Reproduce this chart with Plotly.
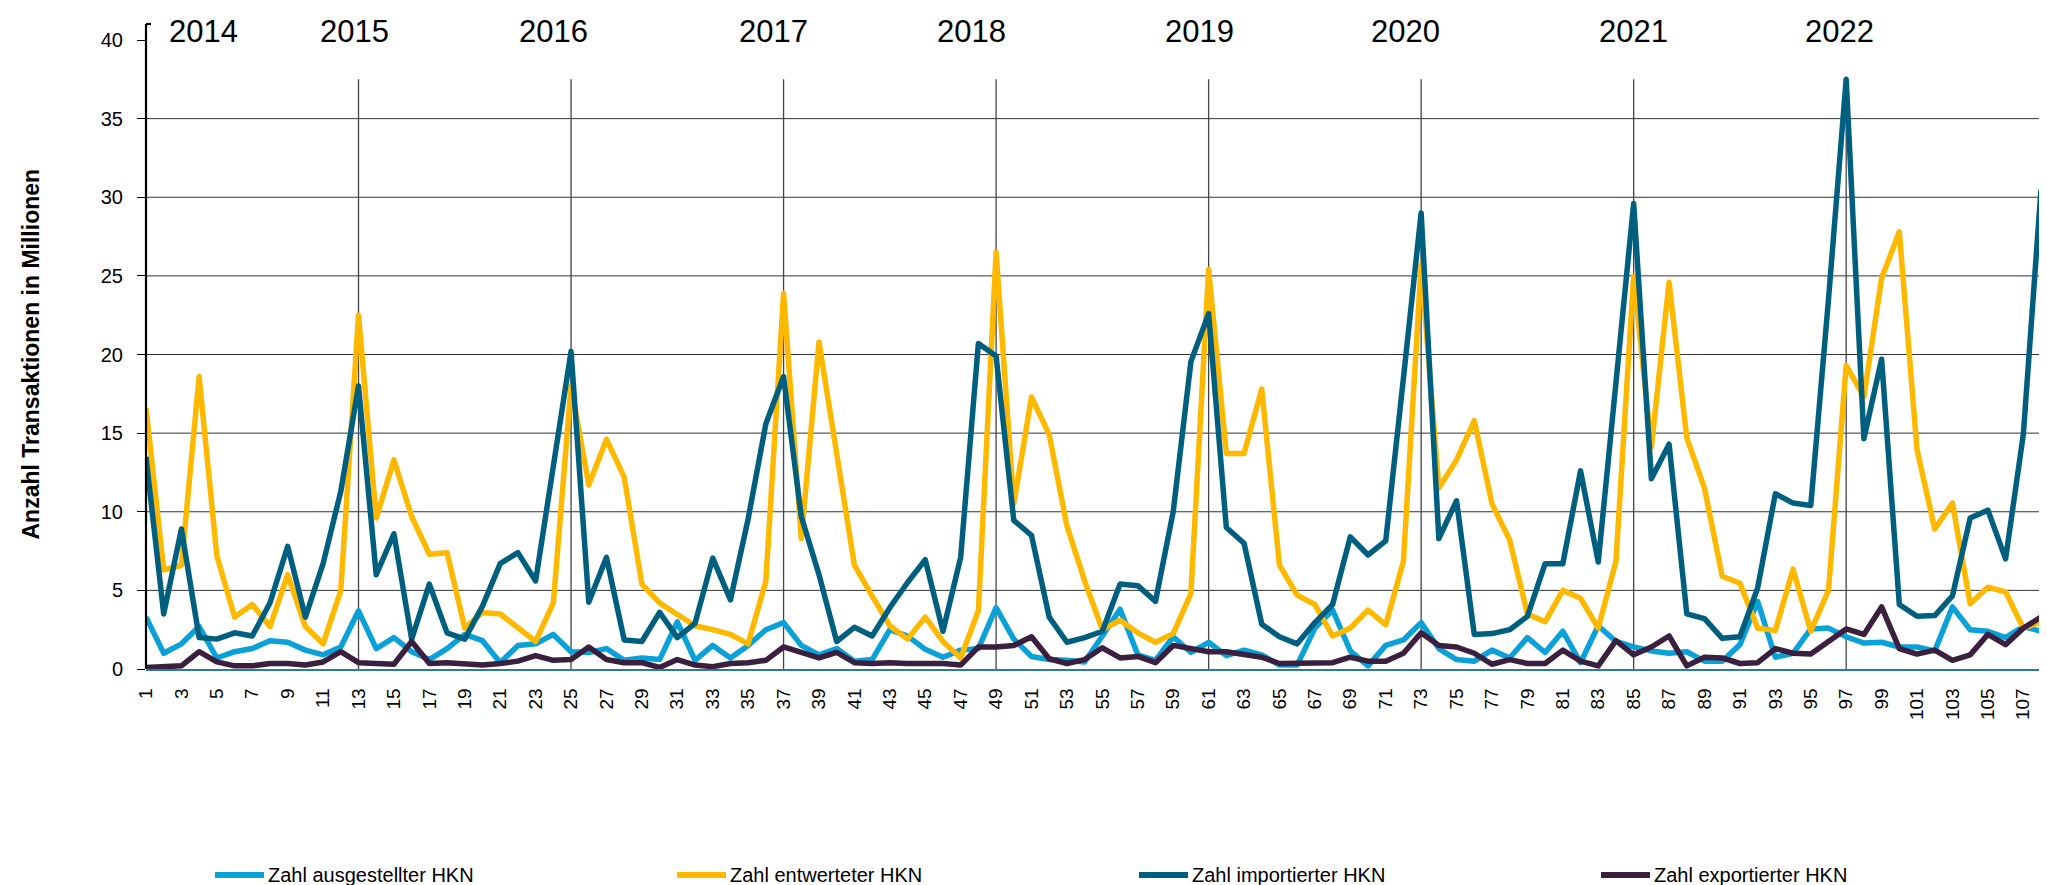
import plotly.graph_objects as go

# ---------------- data ----------------
months = list(range(1, 109))

series_names = [
    "Zahl ausgestellter HKN",
    "Zahl entwerteter HKN",
    "Zahl importierter HKN",
    "Zahl exportierter HKN",
]
series_colors = ["#0aa0d8", "#ffb800", "#005f7f", "#3b1f3f"]

ausgestellt = [
    3.3, 1.0, 1.6, 2.7, 0.7, 1.1, 1.3, 1.8, 1.7, 1.2, 0.9, 1.4,
    3.7, 1.3, 2.0, 1.1, 0.6, 1.3, 2.2, 1.8, 0.4, 1.5, 1.6, 2.2,
    1.1, 1.05, 1.3, 0.55, 0.7, 0.6, 3.0, 0.55, 1.5, 0.7, 1.5, 2.5,
    2.95, 1.5, 0.9, 1.3, 0.5, 0.6, 2.5, 2.1, 1.25, 0.75, 1.2, 1.3,
    3.9, 1.9, 0.8, 0.6, 0.55, 0.45, 2.1, 3.8, 0.9, 0.55, 2.05, 1.05,
    1.7, 0.85, 1.2, 0.9, 0.25, 0.25, 2.6, 3.75, 1.15, 0.2, 1.5, 1.85,
    2.95, 1.3, 0.6, 0.5, 1.2, 0.7, 2.0, 1.05, 2.4, 0.4, 2.75, 1.75,
    1.4, 1.15, 1.0, 1.1, 0.5, 0.5, 1.55, 4.3, 0.75, 1.0, 2.55, 2.6,
    2.05, 1.65, 1.7, 1.4, 1.4, 1.15, 3.95, 2.5, 2.4, 2.0, 2.7, 2.4,
]
entwertet = [
    16.6, 6.3, 6.6, 18.6, 7.2, 3.3, 4.1, 2.7, 6.0, 2.7, 1.6, 5.0,
    22.5, 9.6, 13.3, 9.7, 7.3, 7.4, 2.6, 3.6, 3.5, 2.6, 1.75, 4.2,
    18.0, 11.7, 14.6, 12.2, 5.4, 4.2, 3.5, 2.75, 2.5, 2.2, 1.6, 5.6,
    23.9, 8.3, 20.8, 13.7, 6.6, 4.65, 2.75, 1.9, 3.3, 1.75, 0.7, 3.7,
    26.5, 10.5, 17.3, 14.9, 9.1, 5.6, 2.5, 3.1, 2.3, 1.7, 2.25, 4.8,
    25.4, 13.7, 13.7, 17.8, 6.6, 4.7, 4.1, 2.1, 2.6, 3.75, 2.8, 6.85,
    25.7, 11.5, 13.3, 15.8, 10.5, 8.2, 3.5, 3.0, 5.0, 4.5, 2.6, 6.85,
    25.0, 14.1, 24.6, 14.7, 11.5, 5.9, 5.45, 2.6, 2.45, 6.35, 2.4, 5.0,
    19.3, 17.3, 24.85, 27.8, 13.95, 8.9, 10.55, 4.15, 5.2, 4.9, 2.6, 3.0,
]
importiert = [
    13.5, 3.5, 8.9, 2.0, 1.9, 2.3, 2.1, 4.2, 7.8, 3.3, 6.7, 11.3,
    18.0, 6.0, 8.6, 1.9, 5.4, 2.3, 1.9, 4.0, 6.7, 7.4, 5.6, 12.8,
    20.2, 4.25, 7.1, 1.85, 1.75, 3.6, 2.0, 2.9, 7.05, 4.4, 9.55, 15.6,
    18.6, 9.7, 6.0, 1.75, 2.65, 2.1, 3.9, 5.5, 6.95, 2.4, 7.1, 20.7,
    19.9, 9.45, 8.5, 3.3, 1.7, 2.0, 2.4, 5.4, 5.3, 4.3, 10.0, 19.55,
    22.6, 9.0, 8.0, 2.85, 2.05, 1.6, 2.95, 4.1, 8.4, 7.25, 8.15, 18.5,
    29.0, 8.3, 10.7, 2.2, 2.25, 2.5, 3.35, 6.7, 6.7, 12.6, 6.8, 18.2,
    29.6, 12.1, 14.3, 3.5, 3.2, 1.95, 2.05, 5.15, 11.15, 10.55, 10.4, 23.5,
    37.5, 14.65, 19.7, 4.1, 3.35, 3.4, 4.65, 9.6, 10.1, 7.0, 14.9, 30.5,
]
exportiert = [
    0.1, 0.15, 0.2, 1.1, 0.45, 0.2, 0.2, 0.35, 0.35, 0.25, 0.45, 1.1,
    0.4, 0.35, 0.3, 1.75, 0.35, 0.4, 0.35, 0.25, 0.35, 0.5, 0.85, 0.55,
    0.6, 1.4, 0.6, 0.4, 0.4, 0.1, 0.6, 0.25, 0.15, 0.35, 0.4, 0.55,
    1.4, 1.05, 0.7, 1.05, 0.4, 0.35, 0.4, 0.35, 0.35, 0.35, 0.25, 1.4,
    1.4, 1.5, 2.05, 0.65, 0.35, 0.6, 1.35, 0.7, 0.8, 0.4, 1.5, 1.3,
    1.1, 1.1, 0.9, 0.75, 0.35, 0.35, 0.4, 0.4, 0.75, 0.5, 0.5, 1.0,
    2.3, 1.5, 1.4, 1.0, 0.3, 0.6, 0.35, 0.35, 1.2, 0.5, 0.2, 1.8,
    0.9, 1.4, 2.1, 0.2, 0.75, 0.7, 0.35, 0.4, 1.3, 1.0, 0.95, 1.75,
    2.55, 2.2, 3.95, 1.3, 0.95, 1.2, 0.55, 0.9, 2.2, 1.55, 2.6, 3.3,
]

years = ["2014", "2015", "2016", "2017", "2018", "2019", "2020", "2021", "2022"]
year_label_pos = [4.25, 12.8, 24.0, 36.45, 47.6, 60.5, 72.1, 85.0, 96.65]
year_start_month = [13, 25, 37, 49, 61, 73, 85, 97]

x_ticks = list(range(1, 108, 2))
y_ticks = [0, 5, 10, 15, 20, 25, 30, 35, 40]
y_title = "Anzahl Transaktionen in Millionen"

# ---------------- layout constants ----------------
W, H = 2047, 885
ML, MR, MT, MB = 138, 14, 32, 224
PW, PH = W - ML - MR, H - MT - MB
FONT = "Liberation Sans, Arial, sans-serif"


def px_x(p):
    return (p - ML) / PW


def px_y(p):
    return (MT + PH - p) / PH


fig = go.Figure()
all_series = [ausgestellt, entwertet, importiert, exportiert]
for name, vals, col in zip(series_names, all_series, series_colors):
    fig.add_trace(go.Scatter(
        x=months, y=vals, name=name, mode="lines",
        line=dict(color=col, width=5.5),
        showlegend=False, hoverinfo="x+y+name",
    ))

shapes = []
# horizontal gridlines
for v in y_ticks[1:-1]:
    shapes.append(dict(type="line", xref="x", yref="y", x0=1, x1=108, y0=v, y1=v,
                       line=dict(color="#333333", width=1), layer="below"))
# year separators
for m in year_start_month:
    shapes.append(dict(type="line", xref="x", yref="y", x0=m, x1=m, y0=0, y1=37.5,
                       line=dict(color="#444444", width=1.3), layer="below"))
# right border
shapes.append(dict(type="line", xref="x", yref="y", x0=108, x1=108, y0=0, y1=37.5,
                   line=dict(color="#2b7b9b", width=2), layer="below"))
# y axis line extending above plot with small cap
top_p = px_y(16)
shapes.append(dict(type="line", xref="paper", yref="paper", x0=0, x1=0, y0=0, y1=top_p,
                   line=dict(color="black", width=2.2)))
shapes.append(dict(type="line", xref="paper", yref="paper", x0=0, x1=px_x(ML + 5), y0=top_p, y1=top_p,
                   line=dict(color="black", width=2.2)))

annotations = []
for label, pos in zip(years, year_label_pos):
    annotations.append(dict(x=pos, xref="x", y=px_y(23.5), yref="paper", text=label,
                            showarrow=False, xanchor="center", yanchor="middle",
                            font=dict(family=FONT, size=31, color="black")))
annotations.append(dict(x=px_x(22), xref="paper", y=0.5, yref="paper", text="<b>" + y_title + "</b>",
                        textangle=-90, showarrow=False, xanchor="center", yanchor="middle",
                        font=dict(family=FONT, size=23, color="black")))

# custom legend
leg_y = px_y(867)
for k, (name, col) in enumerate(zip(series_names, series_colors)):
    x0 = 207 + 462 * k
    shapes.append(dict(type="line", xref="paper", yref="paper",
                       x0=px_x(x0), x1=px_x(x0 + 49), y0=leg_y, y1=leg_y,
                       line=dict(color=col, width=6)))
    annotations.append(dict(x=px_x(x0 + 51), xref="paper", y=leg_y, yref="paper", text=name,
                            showarrow=False, xanchor="left", yanchor="middle",
                            font=dict(family=FONT, size=20, color="black")))

fig.update_layout(
    width=W, height=H,
    margin=dict(l=ML, r=MR, t=MT, b=MB, pad=0),
    plot_bgcolor="white", paper_bgcolor="white",
    font=dict(family=FONT, color="black"),
    shapes=shapes, annotations=annotations,
    showlegend=False,
)
fig.update_xaxes(
    range=[1, 108], tickmode="array", tickvals=x_ticks, ticktext=[str(t) for t in x_ticks],
    tickangle=-90, tickfont=dict(family=FONT, size=19, color="black"),
    showgrid=False, zeroline=False, showline=True, linecolor="#2b7b9b", linewidth=1.5,
    ticks="", ticklabelstandoff=10,
)
fig.update_yaxes(
    range=[0, 40], tickmode="array", tickvals=y_ticks,
    tickfont=dict(family=FONT, size=20, color="black"),
    showgrid=False, zeroline=False, showline=False,
    ticks="outside", ticklen=8, tickwidth=1.2, tickcolor="black", ticklabelstandoff=10,
)

post = """
var gd = document.getElementById('{plot_id}');
gd.querySelectorAll('.scatterlayer path.js-line').forEach(function(p){
  p.style.strokeLinejoin = 'round';
});
"""
fig.write_html("out.html", post_script=post)
